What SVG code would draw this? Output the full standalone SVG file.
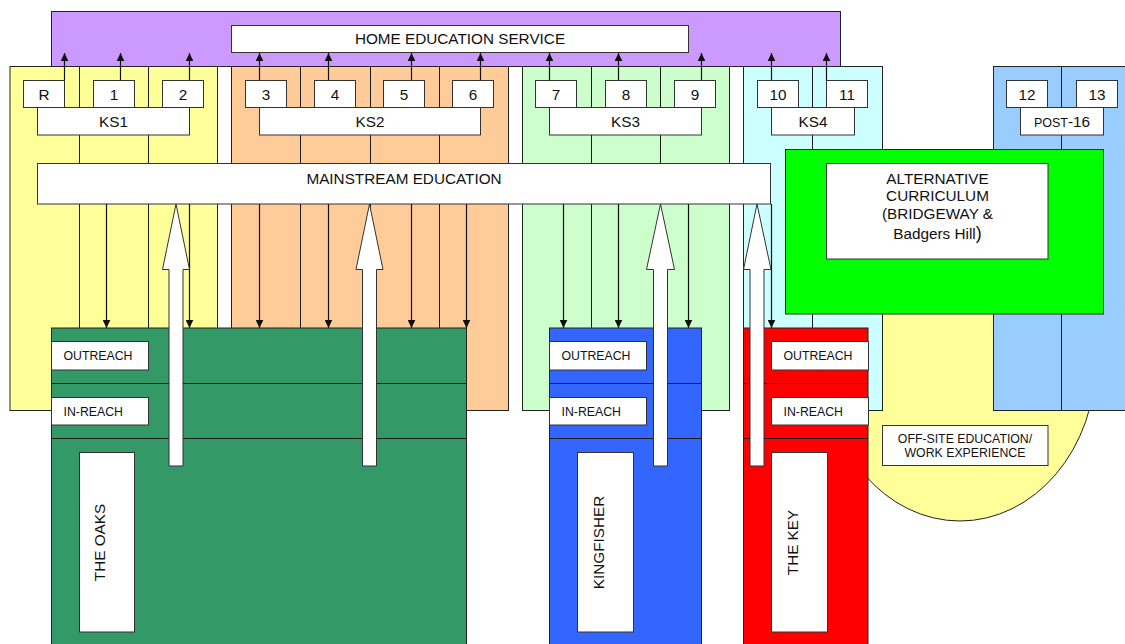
<svg xmlns="http://www.w3.org/2000/svg" width="1125" height="644" viewBox="0 0 1125 644">
<defs>
<marker id="ah" viewBox="0 0 8 8" refX="8" refY="4" markerWidth="8" markerHeight="8" markerUnits="userSpaceOnUse" orient="auto">
<path d="M0,0.2 L8,4 L0,7.8 z" fill="#111"/>
</marker>
<style>
text{font-family:"Liberation Sans",Arial,sans-serif;fill:#111}
.b{fill:#fff;stroke:#333;stroke-width:1}
.p{stroke:#222;stroke-width:1}
.l{stroke:#1a1a1a;stroke-width:1;fill:none}
.a{stroke:#111;stroke-width:1.2;fill:none;marker-end:url(#ah)}
.t15{font-size:15.3px;text-anchor:middle}
.t12{font-size:12.3px}
.c{text-anchor:middle}
.blk{fill:#fff;stroke:#333;stroke-width:1}
</style>
</defs>
<rect width="1125" height="644" fill="#fff"/>

<g id="offsite-ellipse">
<ellipse cx="960" cy="360" rx="136" ry="161" fill="#FFFF99" stroke="#222" stroke-width="1"/>
</g>

<g id="home-education-service">
<rect x="51.5" y="11.5" width="789" height="55" fill="#CC99FF" class="p"/>
<rect x="231.5" y="25.5" width="457" height="27" class="b"/>
<text x="460" y="44" class="t15">HOME EDUCATION SERVICE</text>
</g>

<g id="panels">
<rect id="panel-ks1" x="10" y="66.5" width="207.5" height="344" fill="#FFFF99" class="p"/>
<rect id="panel-ks2" x="231.5" y="66.5" width="277" height="344" fill="#FFCC99" class="p"/>
<rect id="panel-ks3" x="522.5" y="66.5" width="207" height="344" fill="#CCFFCC" class="p"/>
<rect id="panel-ks4" x="743.5" y="66.5" width="139" height="344" fill="#CCFFFF" class="p"/>
<rect id="panel-post16" x="993.5" y="66.5" width="140" height="344" fill="#99CCFF" class="p"/>
</g>

<g id="dividers" class="l">
<line x1="79.5" y1="66.5" x2="79.5" y2="410.5"/>
<line x1="148.5" y1="66.5" x2="148.5" y2="410.5"/>
<line x1="300.5" y1="66.5" x2="300.5" y2="410.5"/>
<line x1="370.5" y1="66.5" x2="370.5" y2="410.5"/>
<line x1="439.5" y1="66.5" x2="439.5" y2="410.5"/>
<line x1="591.5" y1="66.5" x2="591.5" y2="410.5"/>
<line x1="660.5" y1="66.5" x2="660.5" y2="410.5"/>
<line x1="812.5" y1="66.5" x2="812.5" y2="410.5"/>
<line x1="1061.5" y1="66.5" x2="1061.5" y2="410.5"/>
</g>

<g id="connectors">
<line class="a" x1="64.5" y1="80.5" x2="64.5" y2="53"/>
<line class="a" x1="120.5" y1="80.5" x2="120.5" y2="53"/>
<line class="a" x1="189.5" y1="80.5" x2="189.5" y2="53"/>
<line class="a" x1="259.5" y1="80.5" x2="259.5" y2="53"/>
<line class="a" x1="328.5" y1="80.5" x2="328.5" y2="53"/>
<line class="a" x1="411.5" y1="80.5" x2="411.5" y2="53"/>
<line class="a" x1="480.5" y1="80.5" x2="480.5" y2="53"/>
<line class="a" x1="549.5" y1="80.5" x2="549.5" y2="53"/>
<line class="a" x1="618.5" y1="80.5" x2="618.5" y2="53"/>
<line class="a" x1="701.5" y1="80.5" x2="701.5" y2="53"/>
<line class="a" x1="771.5" y1="80.5" x2="771.5" y2="53"/>
<line class="a" x1="826.5" y1="80.5" x2="826.5" y2="53"/>
<line class="a" x1="106.5" y1="204" x2="106.5" y2="328"/>
<line class="a" x1="189.5" y1="204" x2="189.5" y2="328"/>
<line class="a" x1="259.5" y1="204" x2="259.5" y2="328"/>
<line class="a" x1="328.5" y1="204" x2="328.5" y2="328"/>
<line class="a" x1="411.5" y1="204" x2="411.5" y2="328"/>
<line class="a" x1="466.5" y1="204" x2="466.5" y2="328"/>
<line class="a" x1="563.5" y1="204" x2="563.5" y2="328"/>
<line class="a" x1="618.5" y1="204" x2="618.5" y2="328"/>
<line class="a" x1="688.5" y1="204" x2="688.5" y2="328"/>
<line class="a" x1="771.5" y1="204" x2="771.5" y2="328"/>
</g>

<g id="year-boxes">
<g id="y-r"><rect x="23.5" y="80.5" width="41" height="27" class="b"/><text x="44" y="99.5" class="t15">R</text></g>
<g id="y-1"><rect x="93.5" y="80.5" width="41" height="27" class="b"/><text x="114" y="99.5" class="t15">1</text></g>
<g id="y-2"><rect x="162.5" y="80.5" width="41" height="27" class="b"/><text x="183" y="99.5" class="t15">2</text></g>
<g id="y-3"><rect x="245.5" y="80.5" width="41" height="27" class="b"/><text x="266" y="99.5" class="t15">3</text></g>
<g id="y-4"><rect x="314.5" y="80.5" width="41" height="27" class="b"/><text x="335" y="99.5" class="t15">4</text></g>
<g id="y-5"><rect x="383.5" y="80.5" width="41" height="27" class="b"/><text x="404" y="99.5" class="t15">5</text></g>
<g id="y-6"><rect x="452.5" y="80.5" width="41" height="27" class="b"/><text x="473" y="99.5" class="t15">6</text></g>
<g id="y-7"><rect x="535.5" y="80.5" width="41" height="27" class="b"/><text x="556" y="99.5" class="t15">7</text></g>
<g id="y-8"><rect x="605.5" y="80.5" width="41" height="27" class="b"/><text x="626" y="99.5" class="t15">8</text></g>
<g id="y-9"><rect x="674.5" y="80.5" width="41" height="27" class="b"/><text x="695" y="99.5" class="t15">9</text></g>
<g id="y-10"><rect x="757.5" y="80.5" width="41" height="27" class="b"/><text x="778" y="99.5" class="t15">10</text></g>
<g id="y-11"><rect x="826.5" y="80.5" width="41" height="27" class="b"/><text x="847" y="99.5" class="t15">11</text></g>
<g id="y-12"><rect x="1006.5" y="80.5" width="41" height="27" class="b"/><text x="1027" y="99.5" class="t15">12</text></g>
<g id="y-13"><rect x="1076.5" y="80.5" width="41" height="27" class="b"/><text x="1097" y="99.5" class="t15">13</text></g>
</g>

<g id="key-stages">
<g id="ks1"><rect x="37.5" y="107.5" width="152" height="27.5" class="b"/><text x="113.5" y="126.5" class="t15">KS1</text></g>
<g id="ks2"><rect x="259.5" y="107.5" width="221" height="27.5" class="b"/><text x="370" y="126.5" class="t15">KS2</text></g>
<g id="ks3"><rect x="549.5" y="107.5" width="152" height="27.5" class="b"/><text x="625.5" y="126.5" class="t15">KS3</text></g>
<g id="ks4"><rect x="771.5" y="107.5" width="83" height="27.5" class="b"/><text x="813" y="126.5" class="t15">KS4</text></g>
<g id="post16"><rect x="1020.5" y="107.5" width="83" height="27.5" class="b"/><text x="1062" y="126.5" class="c"><tspan font-size="12.5">POST</tspan><tspan font-size="15.3">-16</tspan></text></g>
</g>

<g id="mainstream">
<rect x="37.5" y="163.5" width="733" height="40.5" class="b"/>
<text x="404" y="183.5" class="t15">MAINSTREAM EDUCATION</text>
</g>

<g id="alternative-curriculum">
<rect x="785.5" y="149.5" width="318" height="164.5" fill="#00FF00" class="p"/>
<rect x="826.5" y="163.5" width="221.5" height="95.5" class="b"/>
<text x="937.5" y="183.5" class="t15">ALTERNATIVE</text>
<text x="937.5" y="201" class="t15">CURRICULUM</text>
<text x="937.5" y="218.5" class="t15">(BRIDGEWAY &amp;</text>
<text x="937.5" y="239" class="t15">Badgers Hill<tspan font-size="18">)</tspan></text>
</g>

<g id="the-oaks">
<rect x="51.5" y="328" width="415" height="322" fill="#339966" class="p"/>
<line class="l" x1="51.5" y1="383.5" x2="466.5" y2="383.5"/>
<line class="l" x1="51.5" y1="438.5" x2="466.5" y2="438.5"/>
<rect x="51.5" y="341.5" width="97" height="28.5" class="b"/>
<text x="63.5" y="360" class="t12">OUTREACH</text>
<rect x="51.5" y="397.5" width="97" height="27.5" class="b"/>
<text x="63.5" y="415.5" class="t12">IN-REACH</text>
<rect x="79.5" y="452.5" width="55" height="179.5" class="b"/>
<text transform="translate(105,542.5) rotate(-90)" class="t15">THE OAKS</text>
</g>

<g id="kingfisher">
<rect x="549.5" y="328" width="152" height="322" fill="#3366FF" class="p"/>
<line class="l" x1="549.5" y1="383.5" x2="701.5" y2="383.5"/>
<line class="l" x1="549.5" y1="438.5" x2="701.5" y2="438.5"/>
<rect x="549.5" y="341.5" width="97" height="28.5" class="b"/>
<text x="561.5" y="360" class="t12">OUTREACH</text>
<rect x="549.5" y="397.5" width="97" height="27.5" class="b"/>
<text x="561.5" y="415.5" class="t12">IN-REACH</text>
<rect x="577.5" y="452.5" width="56" height="179.5" class="b"/>
<text transform="translate(604,542.5) rotate(-90)" class="t15">KINGFISHER</text>
</g>

<g id="the-key">
<rect x="743.5" y="328" width="124.5" height="322" fill="#FF0000" class="p"/>
<line class="l" x1="743.5" y1="383.5" x2="868" y2="383.5"/>
<line class="l" x1="743.5" y1="438.5" x2="868" y2="438.5"/>
<rect x="771.5" y="341.5" width="97" height="28.5" class="b"/>
<text x="783.5" y="360" class="t12">OUTREACH</text>
<rect x="771.5" y="397.5" width="97" height="27.5" class="b"/>
<text x="783.5" y="415.5" class="t12">IN-REACH</text>
<rect x="771.5" y="452.5" width="56" height="179.5" class="b"/>
<text transform="translate(797.5,542.5) rotate(-90)" class="t15">THE KEY</text>
</g>

<g id="offsite">
<rect x="882.5" y="425.5" width="165.5" height="40" class="b"/>
<text x="965" y="442.5" class="t12 c">OFF-SITE EDUCATION/</text>
<text x="965" y="456.5" class="t12 c">WORK EXPERIENCE</text>
</g>

<g id="block-arrows">
<polygon class="blk" points="176,204 189.5,269.5 183,269.5 183,466 169,466 169,269.5 162.5,269.5"/>
<polygon class="blk" points="369.5,204 383,269.5 376.5,269.5 376.5,466 362.5,466 362.5,269.5 356,269.5"/>
<polygon class="blk" points="660.5,204 674.5,269.5 667.5,269.5 667.5,466 653.5,466 653.5,269.5 646.5,269.5"/>
<polygon class="blk" points="757,204 771,269.5 764,269.5 764,466 750,466 750,269.5 743.5,269.5"/>
</g>
</svg>
